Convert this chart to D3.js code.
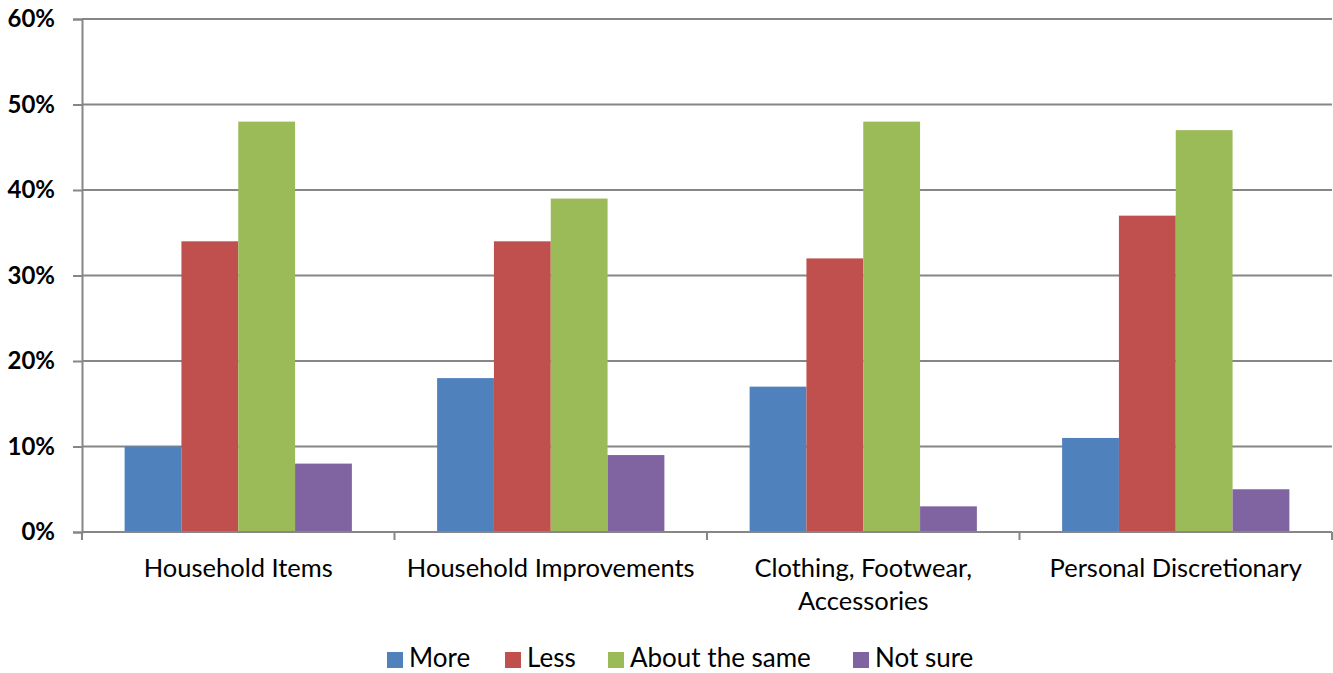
<!DOCTYPE html>
<html>
<head>
<meta charset="utf-8">
<script src="https://cdn.jsdelivr.net/npm/d3@7"></script>
<style>
  body { margin: 0; background: #fff; }
  svg { display: block; font-family: Lato, "Open Sans", sans-serif; }
</style>
</head>
<body>
<svg id="chart"></svg>
<script>
var categories = ["Household Items", "Household Improvements", "Clothing, Footwear, Accessories", "Personal Discretionary"]
var series = ["More", "Less", "About the same", "Not sure"]
var more = [10, 18, 17, 11]
var less = [34, 34, 32, 37]
var same = [48, 39, 48, 47]
var notSure = [8, 9, 3, 5]
var yTicks = [0, 10, 20, 30, 40, 50, 60]
var colours = ["#4F81BD", "#C0504D", "#9BBB59", "#8064A2"]

var values = [more, less, same, notSure]
var width = 1333, height = 673
var margin = {top: 19, right: 1, bottom: 141, left: 82}

var svg = d3.select("#chart")
    .attr("width", width)
    .attr("height", height)

var x = d3.scaleBand()
    .domain(categories)
    .range([margin.left, width - margin.right])

var inner = d3.scaleBand()
    .domain(series)
    .range([0, x.bandwidth()])
    .paddingOuter(0.75)

var y = d3.scaleLinear()
    .domain([0, 60])
    .range([height - margin.bottom, margin.top])

// gridlines + y axis
var yAxis = svg.append("g")
    .attr("transform", "translate(" + margin.left + ",0)")
    .call(d3.axisLeft(y).tickValues(yTicks).tickSize(9).tickFormat(d => d + "%"))
yAxis.select(".domain").attr("stroke", "#868686").attr("stroke-width", 2)
yAxis.selectAll(".tick line").attr("stroke", "#868686").attr("stroke-width", 2)
yAxis.selectAll(".tick text")
    .attr("x", -27)
    .attr("font-size", 24)
    .attr("font-weight", "bold")
    .attr("fill", "#000")
    .attr("font-family", "Lato, sans-serif")

svg.append("g")
    .selectAll("line")
    .data(yTicks.filter(d => d > 0))
    .enter()
    .append("line")
    .attr("x1", margin.left)
    .attr("x2", width - margin.right)
    .attr("y1", d => y(d))
    .attr("y2", d => y(d))
    .attr("stroke", "#868686")
    .attr("stroke-width", 2)

// bars
var groups = svg.append("g")
    .selectAll("g")
    .data(categories)
    .enter()
    .append("g")
    .attr("transform", d => "translate(" + x(d) + ",0)")

groups.selectAll("rect")
    .data((c, ci) => series.map((s, si) => ({s: s, v: values[si][ci], i: si})))
    .enter()
    .append("rect")
    .attr("x", d => inner(d.s))
    .attr("width", inner.bandwidth())
    .attr("y", d => y(d.v))
    .attr("height", d => y(0) - y(d.v))
    .attr("fill", d => colours[d.i])

// x axis
var xAxis = svg.append("g")
    .attr("transform", "translate(0," + y(0) + ")")
xAxis.append("line")
    .attr("x1", margin.left)
    .attr("x2", width - margin.right)
    .attr("stroke", "#868686")
    .attr("stroke-width", 2)
var edges = categories.map(c => x(c)).concat([width - margin.right])
xAxis.selectAll(".edge")
    .data(edges)
    .enter()
    .append("line")
    .attr("x1", d => d)
    .attr("x2", d => d)
    .attr("y1", 0)
    .attr("y2", 8)
    .attr("stroke", "#868686")
    .attr("stroke-width", 2)

var labelLines = {
    "Clothing, Footwear, Accessories": ["Clothing, Footwear,", "Accessories"]
}
xAxis.selectAll(".cat")
    .data(categories)
    .enter()
    .append("text")
    .attr("x", d => x(d) + x.bandwidth() / 2)
    .attr("y", 45)
    .attr("text-anchor", "middle")
    .attr("font-size", 25.5)
    .attr("fill", "#000")
    .each(function (d) {
        var lines = labelLines[d] || [d]
        var t = d3.select(this)
        lines.forEach((l, i) => {
            t.append("tspan")
                .attr("x", x(d) + x.bandwidth() / 2)
                .attr("dy", i == 0 ? 0 : 33)
                .text(l)
        })
    })

// legend
var legendX = [387, 505, 608, 853]
var legend = svg.append("g")
    .selectAll("g")
    .data(series)
    .enter()
    .append("g")
    .attr("transform", (d, i) => "translate(" + legendX[i] + ",652)")
legend.append("rect")
    .attr("width", 16)
    .attr("height", 16)
    .attr("fill", (d, i) => colours[i])
legend.append("text")
    .attr("x", 22)
    .attr("y", 15)
    .attr("font-size", 26)
    .attr("fill", "#000")
    .text(d => d)
</script>
</body>
</html>
